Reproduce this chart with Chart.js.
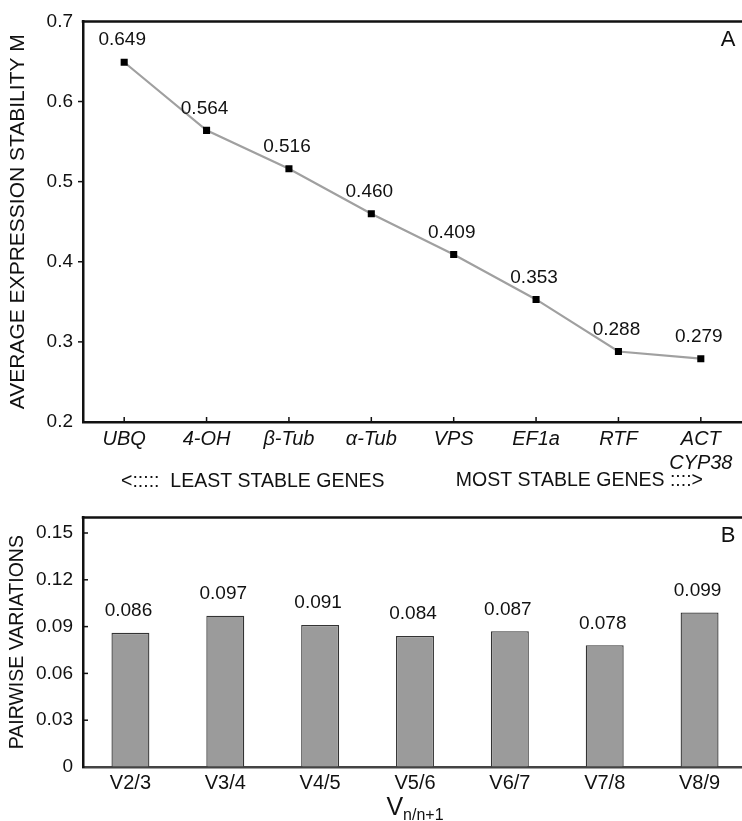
<!DOCTYPE html>
<html>
<head>
<meta charset="utf-8">
<script src="https://cdn.jsdelivr.net/npm/chart.js@4.4.1/dist/chart.umd.min.js"></script>
<style>
  html, body { margin: 0; padding: 0; background: #fff; width: 742px; height: 821px; overflow: hidden; }
  .wrap { position: absolute; left: 0; width: 747px; }
  #wrapA { top: 0; height: 496px; }
  #wrapB { top: 496px; height: 325px; }
</style>
</head>
<body>
<div class="wrap" id="wrapA"><canvas id="chartA"></canvas></div>
<div class="wrap" id="wrapB"><canvas id="chartB"></canvas></div>
<script>
// panel A: geNorm average expression stability
const genes = ['UBQ', '4-OH', 'β-Tub', 'α-Tub', 'VPS', 'EF1a', 'RTF', ['ACT', 'CYP38']];
const stabilityM = [0.649, 0.564, 0.516, 0.460, 0.409, 0.353, 0.288, 0.279];
const ticksA = [0.2, 0.3, 0.4, 0.5, 0.6, 0.7];

// panel B: pairwise variations
const pairs = ['V2/3', 'V3/4', 'V4/5', 'V5/6', 'V6/7', 'V7/8', 'V8/9'];
const pairwiseV = [0.086, 0.097, 0.091, 0.084, 0.087, 0.078, 0.099];
const ticksB = [0, 0.03, 0.06, 0.09, 0.12, 0.15];

const FONT = '"Liberation Sans", Arial, Helvetica, sans-serif';
Chart.defaults.font.family = FONT;
Chart.defaults.color = '#111';

function font(size, style) {
  return (style ? style + ' ' : '') + size + 'px ' + FONT;
}

// top frame line, tick marks, value labels, panel letter
function panelPlugin(cfg) {
  return {
    id: 'panel' + cfg.letter,
    afterDraw(chart) {
      const { ctx, chartArea: a, scales } = chart;
      ctx.save();
      ctx.strokeStyle = '#111';
      ctx.lineWidth = 2.5;
      ctx.beginPath();
      ctx.moveTo(a.left - 1.25, a.top);
      ctx.lineTo(chart.width, a.top);
      ctx.stroke();

      ctx.lineWidth = 1.5;
      const y = scales.y;
      y.ticks.forEach((t, i) => {
        const py = y.getPixelForTick(i);
        if (py <= a.top + 2 || py >= a.bottom - 2) return;
        ctx.beginPath();
        ctx.moveTo(a.left, py);
        ctx.lineTo(a.left + cfg.yTickDir * 5, py);
        ctx.stroke();
      });
      if (cfg.xTicks) {
        const x = scales.x;
        x.ticks.forEach((t, i) => {
          const px = x.getPixelForTick(i);
          ctx.beginPath();
          ctx.moveTo(px, a.bottom);
          ctx.lineTo(px, a.bottom - 5);
          ctx.stroke();
        });
      }

      ctx.fillStyle = '#111';
      ctx.font = font(19);
      ctx.textAlign = 'center';
      ctx.textBaseline = 'middle';
      const meta = chart.getDatasetMeta(0);
      meta.data.forEach((el, i) => {
        const v = chart.data.datasets[0].data[i];
        ctx.fillText(v.toFixed(3), el.x - 2, el.y - 22);
      });

      ctx.font = font(22);
      ctx.fillText(cfg.letter, 728, a.top + 19);
      if (cfg.extra) cfg.extra(chart, ctx);
      ctx.restore();
    }
  };
}

new Chart(document.getElementById('chartA'), {
  type: 'line',
  data: {
    labels: genes,
    datasets: [{
      data: stabilityM,
      borderColor: '#a0a0a0',
      borderWidth: 2.2,
      pointStyle: 'rect',
      pointRadius: 5,
      pointBackgroundColor: '#000',
      pointBorderColor: '#000',
      pointBorderWidth: 0,
      tension: 0
    }]
  },
  options: {
    responsive: true,
    maintainAspectRatio: false,
    animation: false,
    layout: { padding: { top: 19, left: 0, right: 0, bottom: 0 } },
    plugins: { legend: { display: false }, tooltip: { enabled: false } },
    scales: {
      x: {
        offset: true,
        grid: { drawOnChartArea: false, drawTicks: false },
        border: { display: true, color: '#111', width: 2.5 },
        ticks: { font: { size: 20, style: 'italic' }, color: '#111', padding: 5, maxRotation: 0, autoSkip: false },
        afterFit: (s) => { s.height = 74; }
      },
      y: {
        min: 0.2,
        max: 0.7,
        afterBuildTicks: (s) => { s.ticks = ticksA.map((v) => ({ value: v })); },
        grid: { drawOnChartArea: false, drawTicks: false },
        border: { display: true, color: '#111', width: 2.5 },
        ticks: { font: { size: 19 }, color: '#111', padding: 10, callback: (v) => v.toFixed(1) },
        title: { display: true, text: 'AVERAGE EXPRESSION STABILITY M', font: { size: 21 }, color: '#111', padding: { top: 6, bottom: 0 } },
        afterFit: (s) => { s.width = 83; }
      }
    }
  },
  plugins: [panelPlugin({
    letter: 'A', yTickDir: -1, xTicks: true,
    extra(chart, ctx) {
      ctx.font = font(19.5);
      ctx.textBaseline = 'middle';
      ctx.textAlign = 'left';
      ctx.fillText('<:::::  LEAST STABLE GENES', 121, 482);
      ctx.textAlign = 'right';
      ctx.fillText('MOST STABLE GENES ::::>', 703, 481);
    }
  })]
});

new Chart(document.getElementById('chartB'), {
  type: 'bar',
  data: {
    labels: pairs,
    datasets: [{
      data: pairwiseV,
      backgroundColor: '#9b9b9b',
      borderColor: '#333',
      borderWidth: 1.3,
      borderSkipped: 'bottom',
      categoryPercentage: 1,
      barPercentage: 0.4
    }]
  },
  options: {
    responsive: true,
    maintainAspectRatio: false,
    animation: false,
    layout: { padding: { top: 8, left: 0, right: 0, bottom: 0 } },
    plugins: { legend: { display: false }, tooltip: { enabled: false } },
    scales: {
      x: {
        grid: { drawOnChartArea: false, drawTicks: false },
        border: { display: true, color: '#444', width: 2.5 },
        ticks: { font: { size: 20 }, color: '#111', padding: 4, maxRotation: 0, autoSkip: false },
        afterFit: (s) => { s.height = 54; }
      },
      y: {
        min: 0,
        max: 0.16,
        afterBuildTicks: (s) => { s.ticks = ticksB.map((v) => ({ value: v })); },
        grid: { drawOnChartArea: false, drawTicks: false },
        border: { display: true, color: '#111', width: 2.5 },
        ticks: { font: { size: 19 }, color: '#111', padding: 10, callback: (v) => (v === 0 ? '0' : v.toFixed(2)) },
        title: { display: true, text: 'PAIRWISE VARIATIONS', font: { size: 19.5 }, color: '#111', padding: { top: 6, bottom: 0 } },
        afterFit: (s) => { s.width = 83; }
      }
    }
  },
  plugins: [panelPlugin({
    letter: 'B', yTickDir: 1, xTicks: false,
    extra(chart, ctx) {
      // axis title V with subscript n/n+1
      const a = chart.chartArea;
      ctx.font = font(25);
      const wV = ctx.measureText('V').width;
      ctx.font = font(16);
      const wS = ctx.measureText('n/n+1').width;
      const x0 = (a.left + a.right) / 2 - (wV + wS) / 2;
      ctx.textAlign = 'left';
      ctx.textBaseline = 'alphabetic';
      ctx.font = font(25);
      ctx.fillText('V', x0, 319);
      ctx.font = font(16);
      ctx.fillText('n/n+1', x0 + wV, 324);
    }
  })]
});
</script>
</body>
</html>
